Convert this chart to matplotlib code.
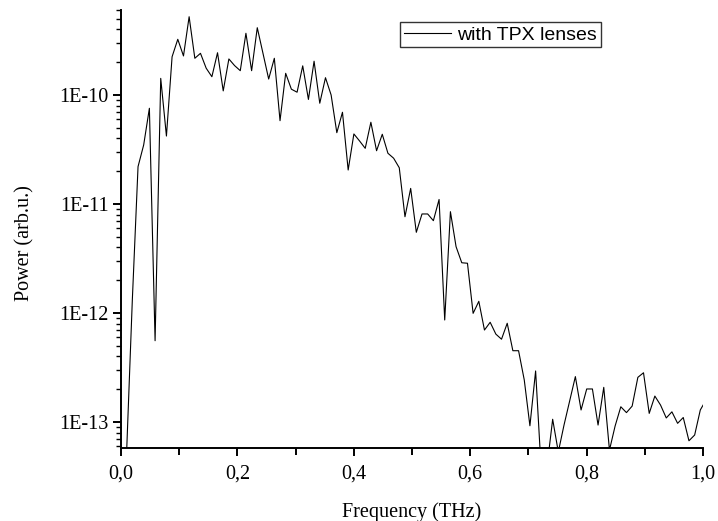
import numpy as np
import matplotlib
matplotlib.use("Agg")
import matplotlib.pyplot as plt
from matplotlib.ticker import MultipleLocator, LogLocator, FuncFormatter, FixedLocator

# frequency grid (THz)
czestotliwosc = [0.0, 0.0098, 0.0195, 0.0293, 0.039, 0.0488, 0.0586, 0.0683, 0.0781, 0.0878,
                 0.0976, 0.1074, 0.1171, 0.1269, 0.1366, 0.1464, 0.1562, 0.1659, 0.1757, 0.1854,
                 0.1952, 0.205, 0.2147, 0.2245, 0.2342, 0.244, 0.2538, 0.2635, 0.2733, 0.283,
                 0.2928, 0.3026, 0.3123, 0.3221, 0.3318, 0.3416, 0.3514, 0.3611, 0.3709, 0.3806,
                 0.3904, 0.4002, 0.4099, 0.4197, 0.4294, 0.4392, 0.449, 0.4587, 0.4685, 0.4782,
                 0.488, 0.4978, 0.5075, 0.5173, 0.527, 0.5368, 0.5466, 0.5563, 0.5661, 0.5758,
                 0.5856, 0.5954, 0.6051, 0.6149, 0.6246, 0.6344, 0.6442, 0.6539, 0.6637, 0.6734,
                 0.6832, 0.693, 0.7027, 0.7125, 0.7222, 0.732, 0.7418, 0.7515, 0.7613, 0.771,
                 0.7808, 0.7906, 0.8003, 0.8101, 0.8198, 0.8296, 0.8394, 0.8491, 0.8589, 0.8686,
                 0.8784, 0.8882, 0.8979, 0.9077, 0.9174, 0.9272, 0.937, 0.9467, 0.9565, 0.9662,
                 0.976, 0.9858, 0.9955, 1.0053]

# power (arb.u.)
moc = [1e-15, 5.5e-14, 1.32e-12, 2.2e-11, 3.48e-11, 7.55e-11, 5.57e-13, 1.42e-10, 4.2e-11, 2.24e-10,
       3.24e-10, 2.28e-10, 5.22e-10, 2.17e-10, 2.41e-10, 1.76e-10, 1.47e-10, 2.44e-10, 1.09e-10, 2.14e-10,
       1.86e-10, 1.67e-10, 3.68e-10, 1.67e-10, 4.14e-10, 2.41e-10, 1.40e-10, 2.17e-10, 5.81e-11, 1.58e-10,
       1.13e-10, 1.06e-10, 1.85e-10, 9.1e-11, 2.04e-10, 8.4e-11, 1.44e-10, 1.0e-10, 4.51e-11, 6.94e-11,
       2.05e-11, 4.39e-11, 3.79e-11, 3.24e-11, 5.62e-11, 3.08e-11, 4.36e-11, 2.92e-11, 2.63e-11, 2.15e-11,
       7.64e-12, 1.39e-11, 5.5e-12, 8.1e-12, 8.1e-12, 7.03e-12, 1.10e-11, 8.63e-13, 8.5e-12, 4.06e-12,
       2.89e-12, 2.86e-12, 9.93e-13, 1.28e-12, 6.98e-13, 8.22e-13, 6.4e-13, 5.75e-13, 8.05e-13, 4.51e-13,
       4.51e-13, 2.43e-13, 9.24e-14, 2.94e-13, 3.55e-14, 3.87e-14, 1.06e-13, 5.31e-14, 9.38e-14, 1.56e-13,
       2.61e-13, 1.29e-13, 2.01e-13, 2.01e-13, 9.38e-14, 2.08e-13, 5.53e-14, 9.19e-14, 1.38e-13, 1.22e-13,
       1.40e-13, 2.57e-13, 2.83e-13, 1.20e-13, 1.73e-13, 1.43e-13, 1.09e-13, 1.24e-13, 9.73e-14, 1.10e-13,
       6.73e-14, 7.6e-14, 1.29e-13, 1.59e-13]

etykieta = "with TPX lenses"

serif = "Liberation Serif"
sans = "Liberation Sans"

fig = plt.figure(figsize=(7.18, 5.21), dpi=100)
ax = fig.add_axes([0.1685, 0.140, 0.8105, 0.841])

ax.plot(czestotliwosc, moc, color="black", linewidth=0.8, label=etykieta)

ax.set_yscale("log")
ax.set_xlim(0, 1.0)
ax.set_ylim(5.77e-14, 6.03e-10)

ax.xaxis.set_major_locator(MultipleLocator(0.2))
ax.xaxis.set_minor_locator(MultipleLocator(0.1))
ax.xaxis.set_major_formatter(FuncFormatter(lambda v, p: ("%.1f" % v).replace(".", ",")))

ax.yaxis.set_major_locator(FixedLocator([1e-13, 1e-12, 1e-11, 1e-10]))
ax.yaxis.set_minor_locator(LogLocator(base=10, subs=np.arange(2, 10)))
ax.yaxis.set_major_formatter(FuncFormatter(lambda v, p: "1E%d" % round(np.log10(v))))

for s in ["top", "right"]:
    ax.spines[s].set_visible(False)
for s in ["left", "bottom"]:
    ax.spines[s].set_linewidth(1.4)

ax.tick_params(axis="both", which="major", direction="out", length=6, width=1.4,
               labelsize=14.5, pad=3)
ax.tick_params(axis="y", which="minor", direction="out", length=3.5, width=1.0)
ax.tick_params(axis="x", which="minor", direction="out", length=5, width=1.4)
ax.tick_params(axis="x", which="major", pad=6)
for lab in ax.get_xticklabels() + ax.get_yticklabels():
    lab.set_fontfamily(serif)

ax.set_xlabel("Frequency (THz)", fontsize=14.5, fontfamily=serif, labelpad=13)
ax.set_ylabel("Power (arb.u.)", fontsize=14.5, fontfamily=serif, labelpad=18, y=0.468)

leg = ax.legend(loc="upper left", bbox_to_anchor=(400 / 718, 1 - 22 / 521),
                bbox_transform=fig.transFigure, prop={"family": sans, "size": 14},
                fancybox=False, borderpad=0.2, borderaxespad=0, handlelength=2.4,
                handletextpad=0.35, framealpha=1)
leg.get_frame().set_edgecolor("#333333")
leg.get_frame().set_linewidth(1.0)

fig.savefig("out.png", dpi=100)
